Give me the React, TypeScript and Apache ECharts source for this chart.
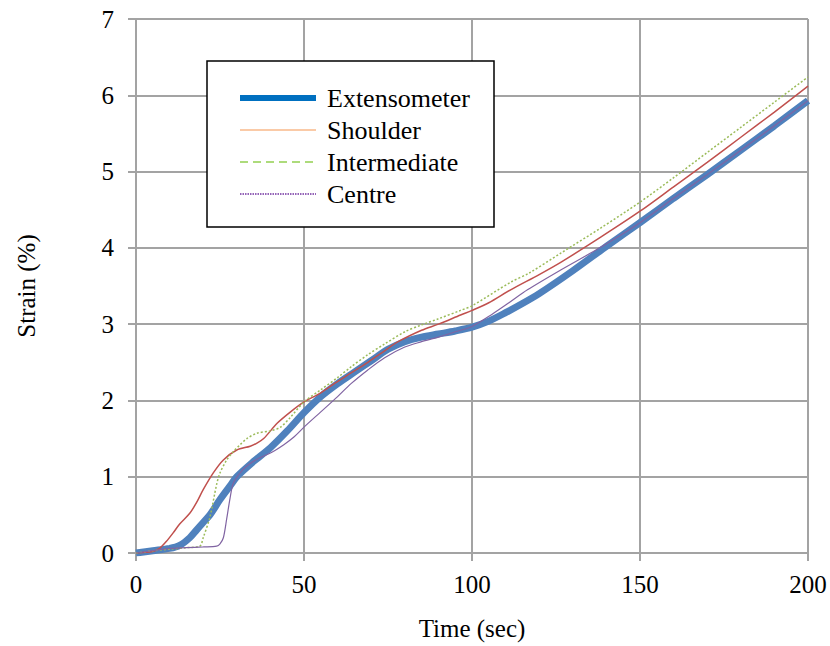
import React, { useEffect, useRef } from "react";
import * as echarts from "echarts";

const extT = [0, 5, 10, 13, 16, 18, 20, 22, 25, 28, 30, 35, 40, 45, 50, 55, 60, 65, 70, 75, 80, 85, 90, 95, 100, 105, 110, 115, 120, 130, 140, 150, 160, 170, 180, 190, 200];
const extV = [0, 0.03, 0.06, 0.1, 0.2, 0.3, 0.4, 0.5, 0.7, 0.88, 1.0, 1.2, 1.38, 1.6, 1.84, 2.05, 2.22, 2.37, 2.52, 2.67, 2.77, 2.83, 2.87, 2.91, 2.96, 3.04, 3.15, 3.27, 3.4, 3.7, 4.02, 4.33, 4.65, 4.96, 5.28, 5.6, 5.93];

const shoT = [0, 5, 7, 9, 11, 13, 16, 18, 20, 23, 26, 30, 34, 36, 38, 42, 46, 50, 55, 59, 64, 69, 74, 78, 85, 90, 96.6, 100, 105, 111.5, 120, 126.4, 138.3, 150, 160, 170, 180, 190, 200];
const shoV = [0, 0.02, 0.06, 0.15, 0.26, 0.38, 0.52, 0.66, 0.83, 1.05, 1.22, 1.35, 1.4, 1.44, 1.5, 1.7, 1.85, 1.98, 2.1, 2.22, 2.36, 2.5, 2.65, 2.77, 2.92, 3.0, 3.12, 3.18, 3.28, 3.45, 3.65, 3.81, 4.14, 4.48, 4.8, 5.12, 5.45, 5.78, 6.12];

const intT = [0, 5, 10, 15, 19, 20, 22, 24, 25, 27, 29, 31, 33, 36, 40, 43, 46, 50, 55, 60, 64, 69, 74, 80, 85, 90, 96.6, 100, 111.5, 117, 126.4, 138.3, 150, 160, 170, 180, 190, 200];
const intV = [0, 0.03, 0.05, 0.07, 0.09, 0.2, 0.47, 0.9, 1.05, 1.22, 1.33, 1.42, 1.5, 1.57, 1.6, 1.65, 1.78, 1.98, 2.14, 2.3, 2.44, 2.6, 2.74, 2.9, 2.99, 3.07, 3.18, 3.24, 3.55, 3.67, 3.93, 4.26, 4.6, 4.92, 5.25, 5.58, 5.91, 6.24];

const cenT = [0, 5, 10, 15, 20, 24, 25, 26, 27, 28, 29, 31, 33, 36, 40, 44, 47, 50, 55, 60, 64, 69, 74, 80, 85, 90, 95, 100, 106, 111, 116.5, 126.4, 138, 150, 160, 170, 180, 190, 200];
const cenV = [0, 0.03, 0.06, 0.07, 0.08, 0.09, 0.12, 0.2, 0.45, 0.72, 0.92, 1.05, 1.14, 1.23, 1.31, 1.42, 1.52, 1.65, 1.85, 2.05, 2.22, 2.4, 2.56, 2.7, 2.77, 2.83, 2.9, 2.97, 3.13, 3.28, 3.45, 3.71, 4.0, 4.33, 4.65, 4.96, 5.28, 5.6, 5.93];

const seriesNames = ["Extensometer", "Shoulder", "Intermediate", "Centre"];
const xTitle = "Time (sec)";
const yTitle = "Strain (%)";

const FONT = "'Liberation Serif', 'Times New Roman', serif";

const pairs = (t: number[], v: number[]) => t.map((x, i) => [x, v[i]]);

export default function App() {
  const ref = useRef<HTMLDivElement>(null);
  useEffect(() => {
    if (!ref.current) return;
    const chart = echarts.init(ref.current, null, { renderer: "svg" });
    const gridColor = "#A3A3A3";
    const lineCommon = { type: "line", smooth: 0.3, showSymbol: false, symbol: "none" };
    const hidden = { opacity: 0 };
    chart.setOption({
      animation: false,
      backgroundColor: "#ffffff",
      textStyle: { fontFamily: FONT },
      grid: { left: 136, right: 22, top: 19, bottom: 93, containLabel: false },
      xAxis: {
        type: "value",
        min: 0,
        max: 200,
        interval: 50,
        name: xTitle,
        nameLocation: "middle",
        nameGap: 63,
        nameTextStyle: { fontFamily: FONT, fontSize: 25, color: "#000" },
        axisLine: { show: true, onZero: false, lineStyle: { color: gridColor, width: 2 } },
        axisTick: { show: true, inside: false, length: 8, lineStyle: { color: gridColor, width: 2 } },
        axisLabel: { fontFamily: FONT, fontSize: 25, color: "#000", margin: 19 },
        splitLine: { show: true, lineStyle: { color: gridColor, width: 2 } },
      },
      yAxis: {
        type: "value",
        min: 0,
        max: 7,
        interval: 1,
        name: yTitle,
        nameLocation: "middle",
        nameGap: 97,
        nameTextStyle: { fontFamily: FONT, fontSize: 25, color: "#000" },
        axisLine: { show: true, lineStyle: { color: gridColor, width: 2 } },
        axisTick: { show: true, inside: false, length: 8, lineStyle: { color: gridColor, width: 2 } },
        axisLabel: { fontFamily: FONT, fontSize: 25, color: "#000", margin: 22 },
        splitLine: { show: true, lineStyle: { color: gridColor, width: 2 } },
      },
      graphic: [
        {
          type: "rect",
          z: 3,
          shape: { x: 207, y: 61, width: 287, height: 166 },
          style: { fill: "#ffffff", stroke: "#000000", lineWidth: 1.5 },
        },
      ],
      legend: {
        orient: "vertical",
        left: 237,
        top: 85,
        padding: 0,
        itemWidth: 76,
        itemHeight: 14,
        itemGap: 6,
        z: 5,
        textStyle: { fontFamily: FONT, fontSize: 26, color: "#000", padding: [0, 0, 0, 6] },
        data: [
          { name: seriesNames[0], itemStyle: hidden, lineStyle: { color: "#0070C0", width: 6, type: "solid" } },
          { name: seriesNames[1], itemStyle: hidden, lineStyle: { color: "#F9B98A", width: 1.3, type: "solid" } },
          { name: seriesNames[2], itemStyle: hidden, lineStyle: { color: "#92D050", width: 1.5, type: [8, 5] } },
          { name: seriesNames[3], itemStyle: hidden, lineStyle: { color: "#7030A0", width: 1.5, type: [1.5, 1] } },
        ],
      },
      series: [
        {
          ...lineCommon,
          name: seriesNames[1],
          data: pairs(shoT, shoV),
          color: "#C0504D",
          lineStyle: { color: "#C0504D", width: 1.5 },
          z: 2,
        },
        {
          ...lineCommon,
          name: seriesNames[2],
          data: pairs(intT, intV),
          color: "#9BBB59",
          lineStyle: { color: "#9BBB59", width: 1.5, type: [2, 2] },
          z: 2,
        },
        {
          ...lineCommon,
          name: seriesNames[3],
          data: pairs(cenT, cenV),
          color: "#8064A2",
          lineStyle: { color: "#8064A2", width: 1.2 },
          z: 2,
        },
        {
          ...lineCommon,
          name: seriesNames[0],
          data: pairs(extT, extV),
          color: "#4F81BD",
          lineStyle: { color: "#4F81BD", width: 7 },
          z: 1,
        },
      ],
    });
    return () => chart.dispose();
  }, []);
  return <div ref={ref} style={{ width: 830, height: 646, position: "absolute", left: 0, top: 0 }} />;
}
